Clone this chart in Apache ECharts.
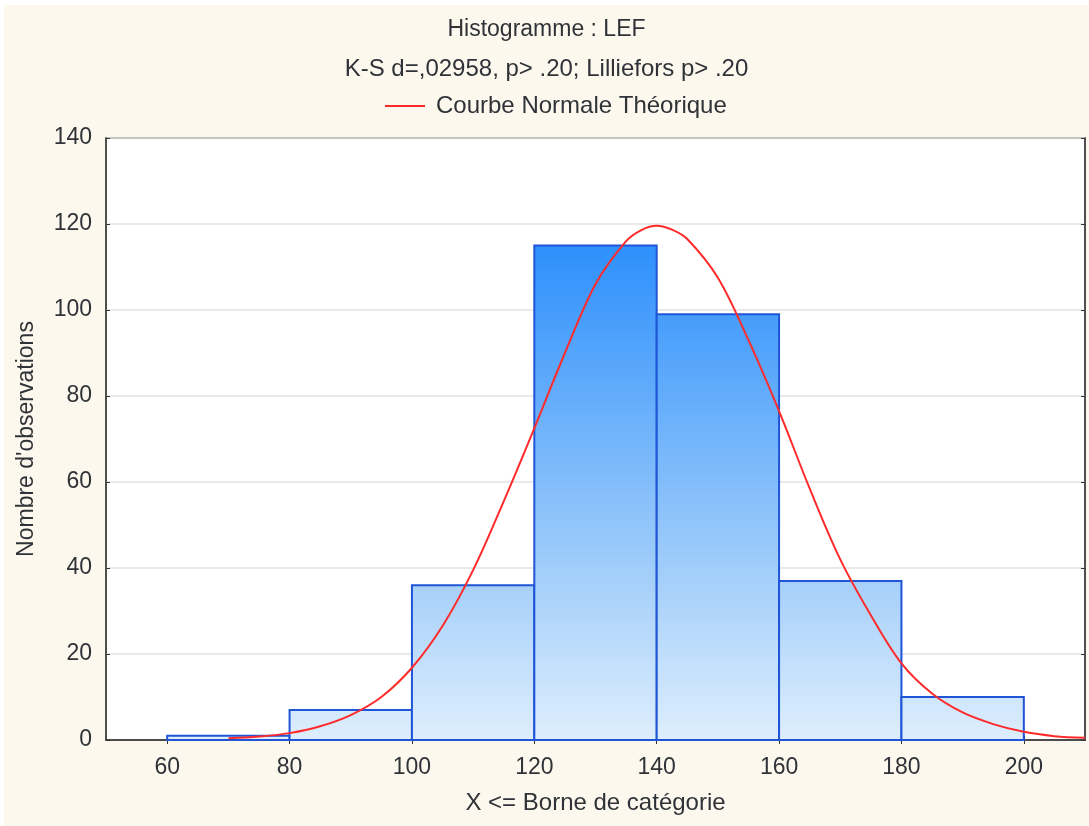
<!DOCTYPE html>
<html>
<head>
<meta charset="utf-8">
<script src="https://cdn.jsdelivr.net/npm/echarts@6/dist/echarts.min.js"></script>
<style>
  html, body { margin: 0; padding: 0; background: #fff; }
  #chart { position: absolute; left: 4px; top: 5px; width: 1085px; height: 821px; background: #fdf8ee; }
</style>
</head>
<body>
<div id="chart"></div>
<script>
// histogram bins (lower bound, upper bound, count)
const binStart = [60, 80, 100, 120, 140, 160, 180];
const binEnd = [80, 100, 120, 140, 160, 180, 200];
const counts = [1, 7, 36, 115, 99, 37, 10];

// theoretical normal curve
const curveX = [70, 75, 80, 85, 90, 95, 100, 105, 110, 115, 120, 125, 130, 135, 137.5, 140,
  142.5, 145, 150, 155, 160, 165, 170, 175, 180, 185, 190, 195, 200, 205, 210];
const curveY = [0.4, 0.8, 1.6, 3.2, 5.8, 10, 16.8, 26.5, 39.5, 55.5, 72.5, 90, 106, 116, 118.6, 119.6,
  118.7, 116.5, 107.5, 93, 76.5, 58.5, 42, 29, 17.8, 10.8, 6.4, 3.7, 1.9, 0.9, 0.5];

const xTicks = [60, 80, 100, 120, 140, 160, 180, 200];

const textColor = "#2f3338";
const font = "Liberation Sans, Arial, sans-serif";

const chart = echarts.init(document.getElementById("chart"));

const barData = binStart.map((s, i) => [s, binEnd[i], counts[i]]);
const curveData = curveX.map((x, i) => [x, curveY[i]]);

const option = {
  animation: false,
  textStyle: { fontFamily: font },
  title: [
    {
      text: "Histogramme : LEF",
      left: "center",
      top: 8,
      textStyle: { fontSize: 23, fontWeight: "normal", color: textColor, fontFamily: font },
    },
    {
      text: "K-S d=,02958, p> .20; Lilliefors p> .20",
      left: "center",
      top: 47,
      textStyle: { fontSize: 24, fontWeight: "normal", color: textColor, fontFamily: font },
    },
  ],
  legend: {
    top: 84,
    left: 376,
    itemWidth: 40,
    itemHeight: 2,
    itemGap: 10,
    icon: "rect",
    textStyle: { fontSize: 24, color: textColor, fontFamily: font, padding: [0, 0, 0, 6] },
    data: ["Courbe Normale Théorique"],
  },
  grid: {
    left: 102,
    right: 4,
    top: 133,
    bottom: 86,
    show: true,
    backgroundColor: "#ffffff",
    borderColor: "#444",
    borderWidth: 1.5,
  },
  xAxis: [
    {
      type: "value",
      min: 50,
      max: 210,
      name: "X <= Borne de catégorie",
      nameLocation: "middle",
      nameGap: 51,
      nameTextStyle: { fontSize: 24, color: textColor, fontFamily: font },
      splitLine: { show: false },
      axisLine: { lineStyle: { color: "#444", width: 1.5 } },
      axisTick: { inside: true, length: 4, customValues: xTicks, lineStyle: { color: "#333" } },
      axisLabel: { customValues: xTicks, fontSize: 23, color: textColor, margin: 16, fontFamily: font },
    },
    {
      type: "value",
      position: "top",
      min: 50,
      max: 210,
      splitLine: { show: false },
      axisLine: { lineStyle: { color: "#444", width: 1.5 } },
      axisTick: { inside: true, length: 4, customValues: xTicks, lineStyle: { color: "#333" } },
      axisLabel: { show: false },
    },
  ],
  yAxis: [
    {
      type: "value",
      min: 0,
      max: 140,
      interval: 20,
      name: "Nombre d'observations",
      nameLocation: "middle",
      nameGap: 68,
      nameTextStyle: { fontSize: 23, color: textColor, fontFamily: font },
      splitLine: { show: true, lineStyle: { color: "#e2e2e2", width: 1.5 } },
      axisLine: { show: true, lineStyle: { color: "#444", width: 1.5 } },
      axisTick: { show: true, inside: true, length: 4, lineStyle: { color: "#333" } },
      axisLabel: { fontSize: 23, color: textColor, margin: 14, fontFamily: font },
    },
    {
      type: "value",
      position: "right",
      min: 0,
      max: 140,
      interval: 20,
      splitLine: { show: false },
      axisLine: { show: true, lineStyle: { color: "#444", width: 1.5 } },
      axisTick: { show: true, inside: true, length: 4, lineStyle: { color: "#333" } },
      axisLabel: { show: false },
    },
  ],
  series: [
    {
      name: "Histogramme",
      type: "custom",
      xAxisIndex: 0,
      yAxisIndex: 0,
      data: barData,
      renderItem: function (params, api) {
        const p0 = api.coord([api.value(0), api.value(2)]);
        const p1 = api.coord([api.value(1), 0]);
        const top = api.coord([50, 140])[1];
        const bottom = api.coord([50, 0])[1];
        return {
          type: "rect",
          shape: { x: p0[0], y: p0[1], width: p1[0] - p0[0], height: p1[1] - p0[1] },
          style: {
            fill: new echarts.graphic.LinearGradient(0, top, 0, bottom, [
              { offset: 0, color: "#0a7cfd" },
              { offset: 0.18, color: "#2e90fc" },
              { offset: 0.74, color: "#a6d0fa" },
              { offset: 1, color: "#deeefd" },
            ], true),
            stroke: "#1f55d6",
            lineWidth: 2,
          },
        };
      },
      z: 2,
    },
    {
      name: "Courbe Normale Théorique",
      type: "line",
      xAxisIndex: 0,
      yAxisIndex: 0,
      data: curveData,
      smooth: 0.35,
      showSymbol: false,
      lineStyle: { color: "#ff2b2b", width: 2 },
      itemStyle: { color: "#ff2b2b" },
      z: 3,
    },
  ],
};

chart.setOption(option);
</script>
</body>
</html>
